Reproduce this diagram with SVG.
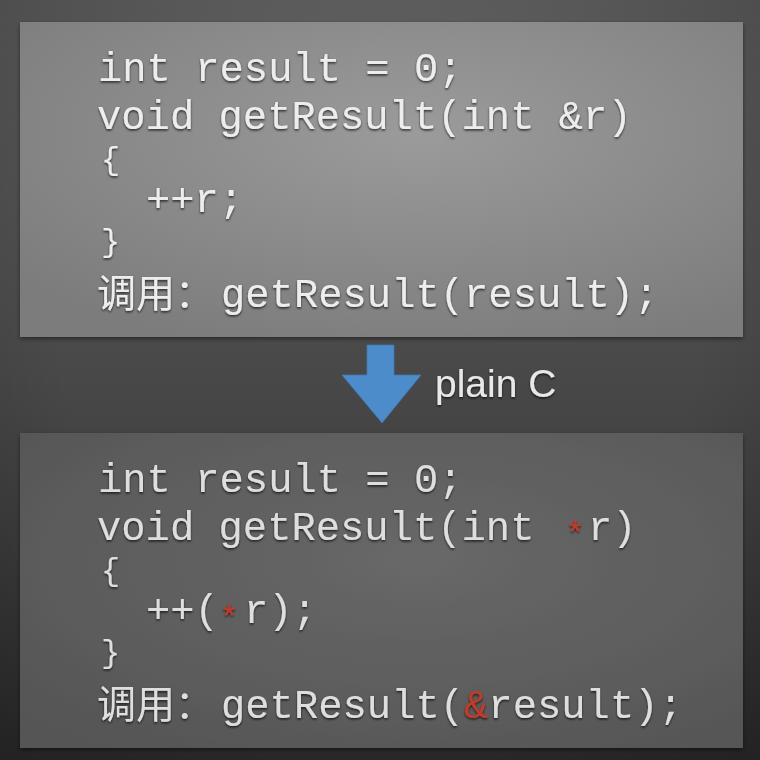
<svg xmlns="http://www.w3.org/2000/svg" width="760" height="760" viewBox="0 0 760 760">
  <defs>
    <linearGradient id="bgLin" x1="0" y1="0" x2="0" y2="1">
      <stop offset="0" stop-color="#5e5e5e"/>
      <stop offset="0.5" stop-color="#484848"/>
      <stop offset="1" stop-color="#2c2c2c"/>
    </linearGradient>
    <radialGradient id="vignette" cx="0.5" cy="0.45" r="0.75">
      <stop offset="0.55" stop-color="#000" stop-opacity="0"/>
      <stop offset="1" stop-color="#000" stop-opacity="0.22"/>
    </radialGradient>
    <radialGradient id="topPanel" cx="0.55" cy="0.35" r="0.75">
      <stop offset="0" stop-color="#9b9b9b"/>
      <stop offset="1" stop-color="#7b7b7b"/>
    </radialGradient>
    <radialGradient id="botPanel" cx="0.55" cy="0.4" r="0.75">
      <stop offset="0" stop-color="#686868"/>
      <stop offset="1" stop-color="#555555"/>
    </radialGradient>
    <filter id="panelShadow" x="-5%" y="-5%" width="110%" height="115%">
      <feDropShadow dx="0" dy="2" stdDeviation="2" flood-color="#000" flood-opacity="0.45"/>
    </filter>
    <filter id="emboss" x="-5%" y="-20%" width="110%" height="150%">
      <feDropShadow dx="0" dy="1.5" stdDeviation="0.8" flood-color="#000" flood-opacity="0.7"/>
    </filter>
  </defs>
  <style>
    .code { font-family: "Liberation Mono", "DejaVu Sans Mono", monospace; font-size: 40.5px; fill: #ededed; }
    .code2 { font-family: "Liberation Mono", "DejaVu Sans Mono", monospace; font-size: 40.5px; fill: #dedede; }
    .brace { font-size: 32px; }
    .cjk { font-family: "Noto Sans CJK SC", "Noto Sans CJK JP", sans-serif; font-size: 39px; }
    .red { fill: #c23b2c; }
    .star { font-size: 34px; }
    .label { font-family: "Liberation Sans", Arial, sans-serif; font-size: 39px; fill: #e8e8e8; }
  </style>

  <rect x="0" y="0" width="760" height="760" fill="url(#bgLin)"/>
  <rect x="0" y="0" width="760" height="760" fill="url(#vignette)"/>

  <g id="panel-cpp">
    <rect x="20" y="22" width="723" height="315" fill="url(#topPanel)" filter="url(#panelShadow)"/>
    <g filter="url(#emboss)">
      <text class="code" x="98" y="81">int result = 0;</text>
      <text class="code" x="97" y="129">void getResult(int &amp;r)</text>
      <text class="code brace" x="101" y="169">{</text>
      <text class="code" x="146" y="212">++r;</text>
      <text class="code brace" x="101" y="251">}</text>
      <text class="code cjk" x="97" y="307">调用：</text>
      <text class="code" x="221" y="307">getResult(result);</text>
    </g>
  </g>

  <g id="connectors">
    <polygon points="367,345 394,345 394,375 421,375 382,423 342,375 367,375" fill="#4d8ccb" stroke="#3f76ad" stroke-width="0.8"/>
  </g>

  <g id="label-plainC" filter="url(#emboss)">
    <text class="label" x="435" y="397">plain C</text>
  </g>

  <g id="panel-c">
    <rect x="20" y="433" width="723" height="315" fill="url(#botPanel)" filter="url(#panelShadow)"/>
    <g filter="url(#emboss)">
      <text class="code2" x="98" y="492">int result = 0;</text>
      <text class="code2" x="97" y="540">void getResult(int <tspan class="red star" x="565" dy="4">*</tspan><tspan x="588" dy="-4">r)</tspan></text>
      <text class="code2 brace" x="101" y="580">{</text>
      <text class="code2" x="146" y="623">++(<tspan class="red star" x="219" dy="5">*</tspan><tspan x="244" dy="-5">r);</tspan></text>
      <text class="code2 brace" x="101" y="662">}</text>
      <text class="code2 cjk" x="97" y="718">调用：</text>
      <text class="code2" x="221" y="718">getResult(<tspan class="red">&amp;</tspan>result);</text>
    </g>
  </g>
</svg>
